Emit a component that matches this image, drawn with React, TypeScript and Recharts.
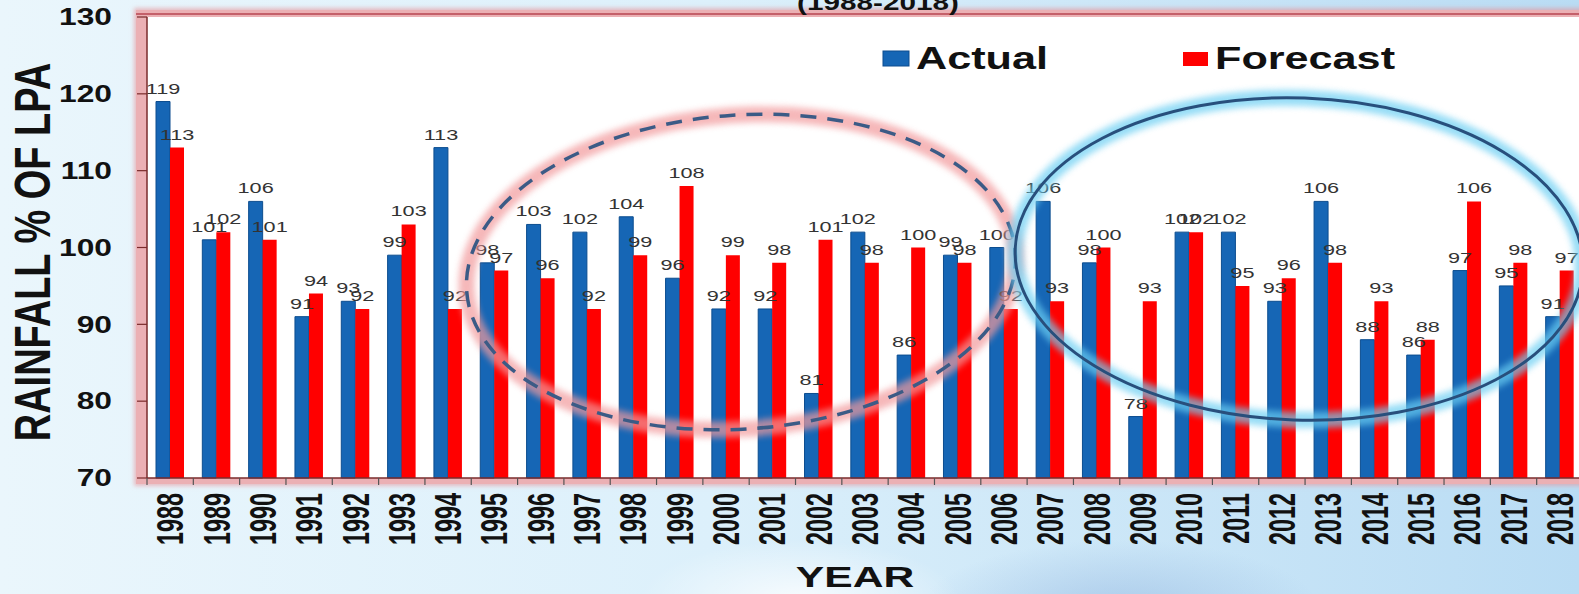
import React from 'react';
import { BarChart, Bar, XAxis, YAxis, CartesianGrid, Legend, LabelList } from 'recharts';

const years = [
  '1988', '1989', '1990', '1991', '1992', '1993', '1994', '1995', '1996', '1997', '1998',
  '1999', '2000', '2001', '2002', '2003', '2004', '2005', '2006', '2007', '2008', '2009',
  '2010', '2011', '2012', '2013', '2014', '2015', '2016', '2017', '2018',
];
const actual = [119, 101, 106, 91, 93, 99, 113, 98, 103, 102, 104, 96, 92, 92, 81, 102, 86, 99, 100, 106, 98, 78, 102, 102, 93, 106, 88, 86, 97, 95, 91];
const forecast = [113, 102, 101, 94, 92, 103, 92, 97, 96, 92, 99, 108, 99, 98, 101, 98, 100, 98, 92, 93, 100, 93, 102, 95, 96, 98, 93, 88, 106, 98, 97];
const yTicks = [70, 80, 90, 100, 110, 120, 130];

const data = years.map((year, i) => ({ year, actual: actual[i], forecast: forecast[i] }));

const FONT = 'Liberation Sans, Arial, Helvetica, sans-serif';
const PLOT_LEFT = 147;
const PLOT_W = 1436;
const BAND = PLOT_W / years.length;
const BLUE = '#1666b5';
const RED = '#ff0000';
const AXIS = '#7a2b2b';

// bar value labels, drawn a little wide like the source picture
const BarLabel = (props: any) => {
  const { x, y, width, value } = props;
  return (
    <text
      transform={`translate(${x + width / 2},${y - 8}) scale(1.4,1)`}
      textAnchor="middle"
      fontSize={15.5}
      fontFamily={FONT}
      fill="#333"
    >
      {value}
    </text>
  );
};

const XTick = (props: any) => {
  const { x, y, payload, index } = props;
  const last = index === years.length - 1;
  return (
    <g>
      <line x1={x - BAND / 2} x2={x - BAND / 2} y1={y} y2={y + 7} stroke="#555" strokeWidth={1.2} />
      {last && <line x1={x + BAND / 2} x2={x + BAND / 2} y1={y} y2={y + 7} stroke="#555" strokeWidth={1.2} />}
      <text
        transform={`translate(${x},${y + 15}) scale(1.55,1) rotate(-90)`}
        textAnchor="end"
        dy="0.36em"
        fontSize={23.4}
        fontWeight="bold"
        fontFamily={FONT}
        fill="#111"
      >
        {payload.value}
      </text>
    </g>
  );
};

const YTick = (props: any) => {
  const { x, y, payload } = props;
  return (
    <text
      transform={`translate(${x},${y}) scale(1.38,1)`}
      textAnchor="end"
      dy="0.36em"
      fontSize={23}
      fontWeight="bold"
      fontFamily={FONT}
      fill="#111"
    >
      {payload.value}
    </text>
  );
};

const LegendBox = () => (
  <svg width={540} height={40} style={{ overflow: 'visible' }}>
    <rect x={0} y={11} width={26} height={15} fill={BLUE} stroke="#0c4d8f" />
    <text transform="translate(33,28.5) scale(1.35,1)" fontSize={32} fontWeight="bold" fontFamily={FONT} fill="#111">
      Actual
    </text>
    <rect x={300} y={12} width={25} height={14} fill={RED} />
    <text transform="translate(332,28.5) scale(1.35,1)" fontSize={32} fontWeight="bold" fontFamily={FONT} fill="#111">
      Forecast
    </text>
  </svg>
);

export default function App() {
  return (
    <div
      style={{
        position: 'fixed',
        left: 0,
        top: 0,
        width: 1579,
        height: 594,
        overflow: 'hidden',
        background:
          'radial-gradient(ellipse 160px 60px at 800px 600px, rgba(255,255,255,0.8), rgba(255,255,255,0) 100%),' +
          'radial-gradient(ellipse 200px 70px at 1120px 610px, rgba(150,185,225,0.6), rgba(150,185,225,0) 100%),' +
          'linear-gradient(to right, #eaf6fc 0%, #dcf0fb 45%, #c9e5f7 75%, #b9dcf4 100%)',
      }}
    >
      {/* pink frame glow around the plot */}
      <div
        style={{
          position: 'absolute',
          left: 136,
          top: 10,
          width: 1470,
          height: 474,
          background: '#ebb0b4',
          boxShadow: '0 0 4px 2px rgba(230,150,155,0.6)',
        }}
      />
      <div style={{ position: 'absolute', left: 136, top: 13, width: 1470, height: 2, background: '#c4606a' }} />

      <div style={{ position: 'absolute', left: 0, top: 0 }}>
        <BarChart
          width={PLOT_LEFT + PLOT_W}
          height={594}
          data={data}
          margin={{ top: 17, right: 0, bottom: 0, left: 0 }}
          barSize={14}
          barGap={0}
        >
          <CartesianGrid horizontal={false} vertical={false} fill="#ffffff" />
          <XAxis
            dataKey="year"
            height={116}
            interval={0}
            tickLine={false}
            tickSize={0}
            tickMargin={0}
            axisLine={{ stroke: AXIS, strokeWidth: 1.5 }}
            tick={<XTick />}
          />
          <YAxis
            width={PLOT_LEFT}
            domain={[70, 130]}
            ticks={yTicks}
            interval={0}
            tickSize={10}
            tickMargin={25}
            tickLine={{ stroke: AXIS, strokeWidth: 1.2 }}
            axisLine={{ stroke: AXIS, strokeWidth: 1.5 }}
            tick={<YTick />}
          />
          <Legend
            layout="horizontal"
            verticalAlign="middle"
            align="center"
            wrapperStyle={{ top: 40, left: 883, width: 540, height: 40 }}
            content={<LegendBox />}
          />
          <Bar dataKey="actual" name="Actual" fill={BLUE} stroke="#0c4d8f" strokeWidth={1} isAnimationActive={false}>
            <LabelList dataKey="actual" content={<BarLabel />} />
          </Bar>
          <Bar dataKey="forecast" name="Forecast" fill={RED} isAnimationActive={false}>
            <LabelList dataKey="forecast" content={<BarLabel />} />
          </Bar>
        </BarChart>
      </div>

      {/* titles and the two highlight rings */}
      <svg
        width={1579}
        height={594}
        style={{ position: 'absolute', left: 0, top: 0, pointerEvents: 'none' }}
      >
        <defs>
          <filter id="soft" x="-20%" y="-20%" width="140%" height="140%">
            <feGaussianBlur stdDeviation="3" />
          </filter>
        </defs>
        <text
          transform="translate(878,10) scale(1.35,1)"
          textAnchor="middle"
          fontSize={22}
          fontWeight="bold"
          fontFamily={FONT}
          fill="#111"
        >
          (1988-2018)
        </text>
        <text
          transform="translate(32,252) scale(1.3,1) rotate(-90)"
          textAnchor="middle"
          dy="0.36em"
          fontSize={38}
          fontWeight="bold"
          fontFamily={FONT}
          fill="#111"
        >
          RAINFALL % OF LPA
        </text>
        <text
          transform="translate(855,587) scale(1.42,1)"
          textAnchor="middle"
          fontSize={30}
          fontWeight="bold"
          fontFamily={FONT}
          fill="#111"
        >
          YEAR
        </text>

        <g transform="rotate(-4 741 272)">
          <ellipse cx={741} cy={272} rx={275} ry={157} fill="none" stroke="#f29a9c" strokeWidth={16} opacity={0.7} filter="url(#soft)" />
          <ellipse cx={741} cy={272} rx={275} ry={157} fill="none" stroke="#3b5b86" strokeWidth={3.5} strokeDasharray="16 11" />
        </g>
        <g transform="rotate(2 1299 259)">
          <ellipse cx={1299} cy={259} rx={284} ry={161} fill="none" stroke="#6ccff3" strokeWidth={16} opacity={0.7} filter="url(#soft)" />
          <ellipse cx={1299} cy={259} rx={284} ry={161} fill="none" stroke="#284f7c" strokeWidth={3} />
        </g>
      </svg>
    </div>
  );
}
